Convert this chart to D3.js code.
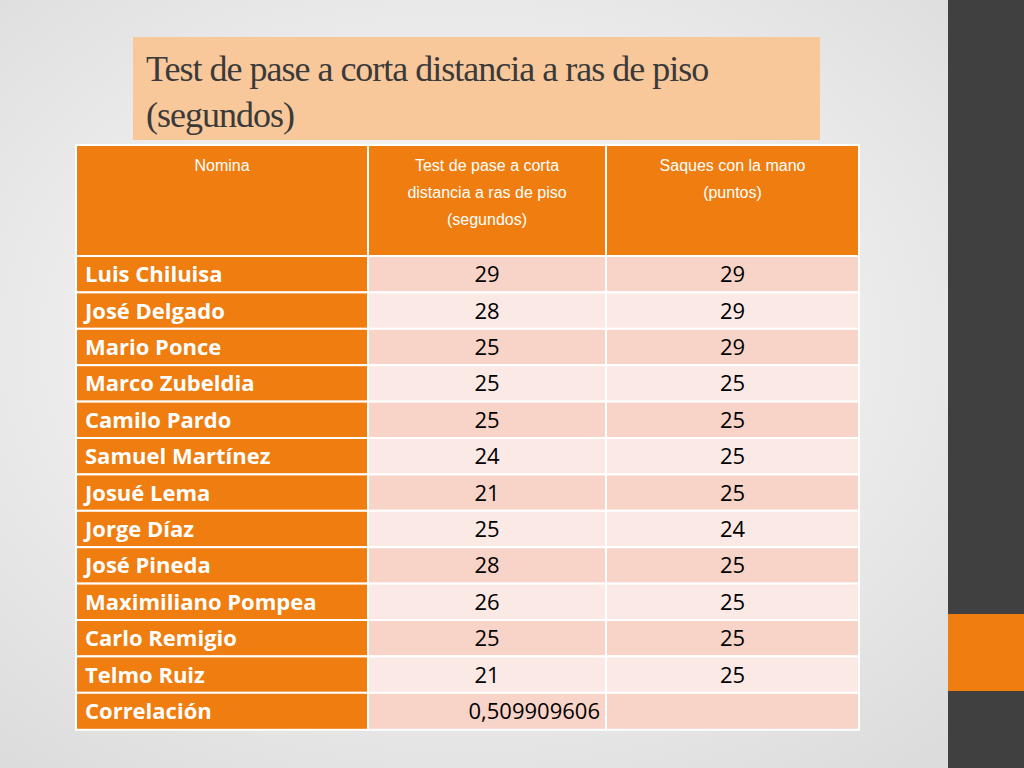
<!DOCTYPE html>
<html><head><meta charset="utf-8">
<script src="https://cdn.jsdelivr.net/npm/d3@7"></script>
<style>body{margin:0;overflow:hidden}</style>
</head><body>
<svg id="c" width="1024" height="768"></svg>
<script>
const headers = [["Nomina"], ["Test de pase a corta", "distancia a ras de piso", "(segundos)"], ["Saques con la mano", "(puntos)"]];
const names = ["Luis Chiluisa","José Delgado","Mario Ponce","Marco Zubeldia","Camilo Pardo","Samuel Martínez","Josué Lema","Jorge Díaz","José Pineda","Maximiliano Pompea","Carlo Remigio","Telmo Ruiz"];
const pase = [29,28,25,25,25,24,21,25,28,26,25,21];
const saques = [29,29,29,25,25,25,25,24,25,25,25,25];
const correlacion = "0,509909606";

const svg = d3.select("#c");
const defs = svg.append("defs");
const g = defs.append("radialGradient").attr("id","bg").attr("cx","45%").attr("cy","45%").attr("r","70%");
g.append("stop").attr("offset","0").attr("stop-color","#ffffff");
g.append("stop").attr("offset","1").attr("stop-color","#dcdcdc");
svg.append("rect").attr("width",1024).attr("height",768).attr("fill","url(#bg)");
svg.append("rect").attr("x",948).attr("width",76).attr("height",768).attr("fill","#404040");
svg.append("rect").attr("x",948).attr("y",614).attr("width",76).attr("height",77).attr("fill","#ef7d0f");

// title
svg.append("rect").attr("x",133).attr("y",37).attr("width",687).attr("height",103).attr("fill","#f9c89a");
svg.append("text").attr("x",146).attr("y",81).attr("font-family","Liberation Serif").attr("font-size",36)
  .attr("fill","#3a3a3a").attr("letter-spacing",-1)
  .selectAll("tspan").data(["Test de pase a corta distancia a ras de piso","(segundos)"]).join("tspan")
  .attr("x",146).attr("dy",(d,i)=>i?46:0).text(d=>d);

// table
const cols = [76,368,606,859];
const tableTop = 256, rh = 36.4;
const y = d3.scaleLinear().domain([0,1]).range([tableTop, tableTop+rh]);
const hdr = svg.append("g");
headers.forEach((h,i)=>{
  hdr.append("rect").attr("x",cols[i]).attr("y",145).attr("width",cols[i+1]-cols[i]).attr("height",tableTop-145)
    .attr("fill","#ef7d0f").attr("stroke","#fff").attr("stroke-width",2);
  hdr.append("text").attr("text-anchor","middle").attr("font-family","Liberation Sans").attr("font-size",16)
    .attr("fill","#fff").selectAll("tspan").data(h).join("tspan")
    .attr("x",(cols[i]+cols[i+1])/2).attr("y",(d,j)=>171+j*27).text(d=>d);
});
const rows = names.map((n,i)=>[n,pase[i],saques[i]]);
rows.push(["Correlación", correlacion, ""]);
const font = "Open Sans, Liberation Sans";
rows.forEach((r,i)=>{
  const y0 = y(i), h = i===12 ? 37 : rh;
  r.forEach((v,j)=>{
    svg.append("rect").attr("x",cols[j]).attr("y",y0).attr("width",cols[j+1]-cols[j]).attr("height",h)
      .attr("fill", j===0 ? "#ef7d0f" : (i%2===0 ? "#f8d4c8" : "#fbe9e5")).attr("stroke","#fff").attr("stroke-width",2);
    const t = svg.append("text").attr("y",y0+h/2+8).attr("font-family",font).attr("font-size",22).text(v);
    if (j===0) t.attr("x",cols[0]+9).attr("fill","#fff").attr("font-weight","bold");
    else if (i===12) t.attr("x",cols[j+1]-6).attr("text-anchor","end").attr("fill","#000");
    else t.attr("x",(cols[j]+cols[j+1])/2).attr("text-anchor","middle").attr("fill","#000");
  });
});
</script>
</body></html>
